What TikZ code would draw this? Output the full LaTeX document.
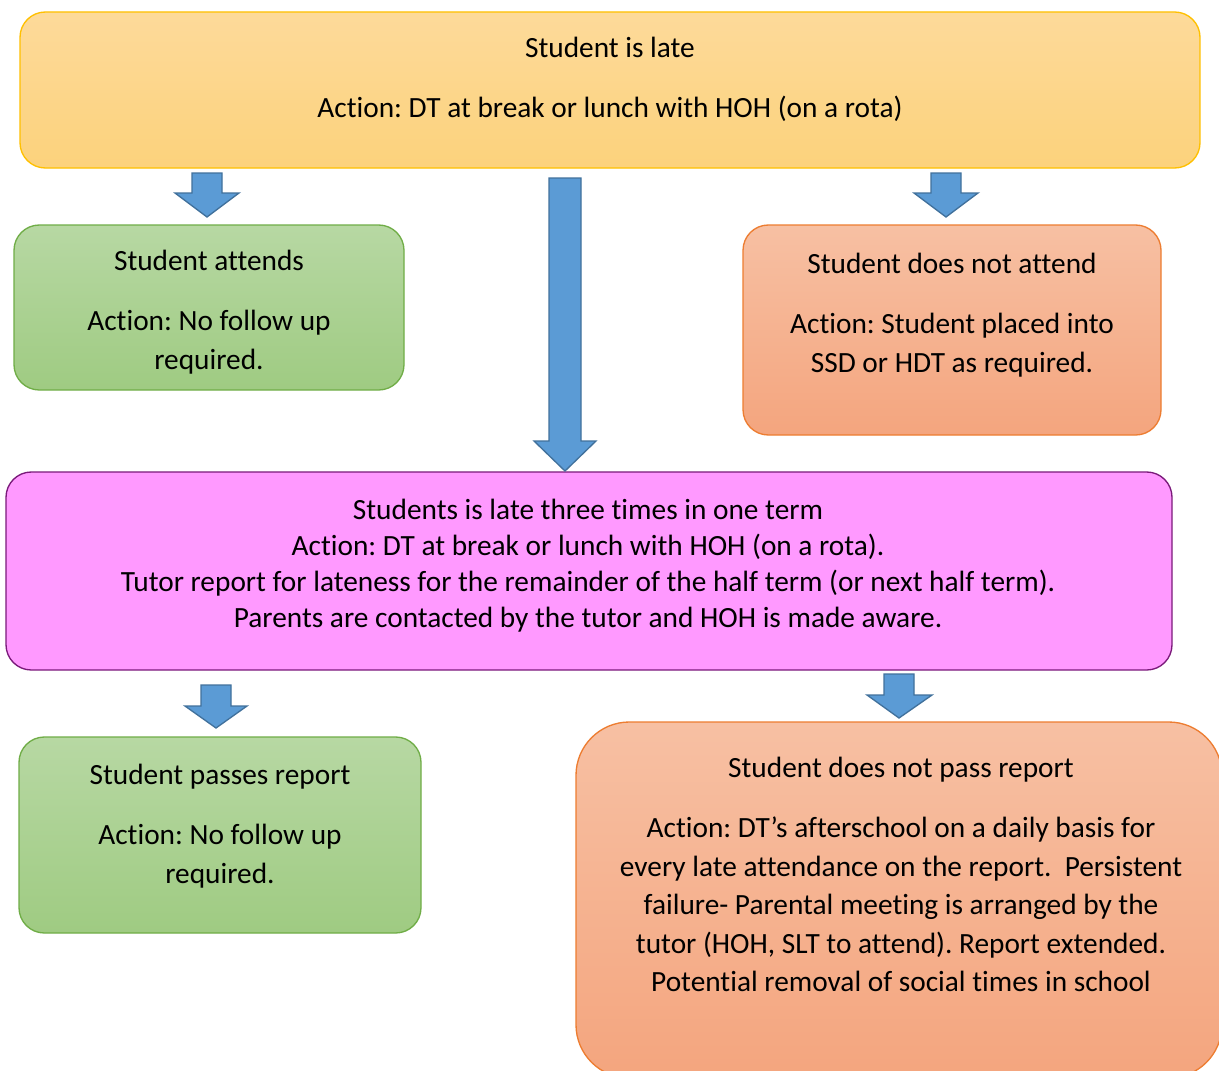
\documentclass[tikz,border=0pt]{standalone}
\usepackage{fontspec}
\setmainfont{Carlito}[Ligatures=NoCommon]
\begin{document}
\frenchspacing
\begin{tikzpicture}[x=0.75pt,y=-0.75pt,
  box/.style={draw,line width=1pt,rounded corners=19pt},
  yellowbox/.style={box,draw=yellowedge,top color=yellowtop,bottom color=yellowbot},
  greenbox/.style={box,draw=greenedge,top color=greentop,bottom color=greenbot},
  orangebox/.style={box,draw=orangeedge,top color=orangetop,bottom color=orangebot},
  pinkbox/.style={box,draw=pinkedge,fill=pinkfill},
  txt/.style={inner sep=0pt,align=center,anchor=north,font=\fontsize{22}{28.9}\selectfont},
  blockarrow/.style={draw=arrowedge,fill=arrowfill,line width=1pt,line join=miter}]
\definecolor{yellowedge}{HTML}{FFC000}
\definecolor{yellowtop}{HTML}{FDDA9A}
\definecolor{yellowbot}{HTML}{FCD27C}
\definecolor{greenedge}{HTML}{70AD47}
\definecolor{greentop}{HTML}{B7D8A3}
\definecolor{greenbot}{HTML}{9FCB82}
\definecolor{orangeedge}{HTML}{ED7D31}
\definecolor{orangetop}{HTML}{F7C0A3}
\definecolor{orangebot}{HTML}{F4A57E}
\definecolor{pinkedge}{HTML}{7A1A7A}
\definecolor{pinkfill}{HTML}{FF99FF}
\definecolor{arrowedge}{HTML}{41719C}
\definecolor{arrowfill}{HTML}{5B9BD5}
\clip (0,0) rectangle (1219,1070);
\fill[white] (0,0) rectangle (1219,1070);
% boxes
\path[yellowbox] (20,12) rectangle (1200,168);
\node[inner sep=0pt] (late) at (610,90) {};
\path[greenbox] (14,225) rectangle (404,390);
\node[inner sep=0pt] (attends) at (209,307) {};
\path[orangebox] (743,225) rectangle (1161,435);
\node[inner sep=0pt] (notattend) at (952,330) {};
\path[pinkbox] (6,472) rectangle (1172,670);
\node[inner sep=0pt] (three) at (588,571) {};
\path[greenbox] (19,737) rectangle (421,933);
\node[inner sep=0pt] (passes) at (220,835) {};
\path[orangebox,rounded corners=40pt] (576,722) rectangle (1222,1078);
\node[inner sep=0pt] (notpass) at (901,900) {};
% texts
\node[txt] (t1) at (610,37) {Student is late\\[16pt]Action: DT at break or lunch with HOH (on a rota)};
\node[txt] (t2) at (209,250) {Student attends\\[16pt]Action: No follow up\\required.};
\node[txt] (t3) at (952,253) {Student does not attend\\[16pt]Action: Student placed into\\SSD or HDT as required.};
\node[txt,font=\fontsize{22}{27}\selectfont] (t4) at (588,499) {Students is late three times in one term\\Action: DT at break or lunch with HOH (on a rota).\\Tutor report for lateness for the remainder of the half term (or next half term).\\Parents are contacted by the tutor and HOH is made aware.};
\node[txt] (t5) at (220,764) {Student passes report\\[16pt]Action: No follow up\\required.};
\node[txt] (t6) at (901,757) {Student does not pass report\\[16pt]Action: DT’s afterschool on a daily basis for\\every late attendance on the report.\ \ Persistent\\failure- Parental meeting is arranged by the\\tutor (HOH, SLT to attend). Report extended.\\Potential removal of social times in school};
% block arrows
\draw[blockarrow] (192,173) -- (222,173) -- (222,193) -- (239,193) -- (207,217) -- (175,193) -- (192,193) -- cycle;
\draw[blockarrow] (931,173) -- (961,173) -- (961,193) -- (978,193) -- (946,217) -- (914,193) -- (931,193) -- cycle;
\draw[blockarrow] (549,178) -- (581,178) -- (581,441) -- (596,441) -- (565,471) -- (534,441) -- (549,441) -- cycle;
\draw[blockarrow] (201,685) -- (231,685) -- (231,706) -- (247,706) -- (216,728) -- (185,706) -- (201,706) -- cycle;
\draw[blockarrow] (884,674) -- (914,674) -- (914,695) -- (932,695) -- (899,718) -- (867,695) -- (884,695) -- cycle;
\end{tikzpicture}
\end{document}
